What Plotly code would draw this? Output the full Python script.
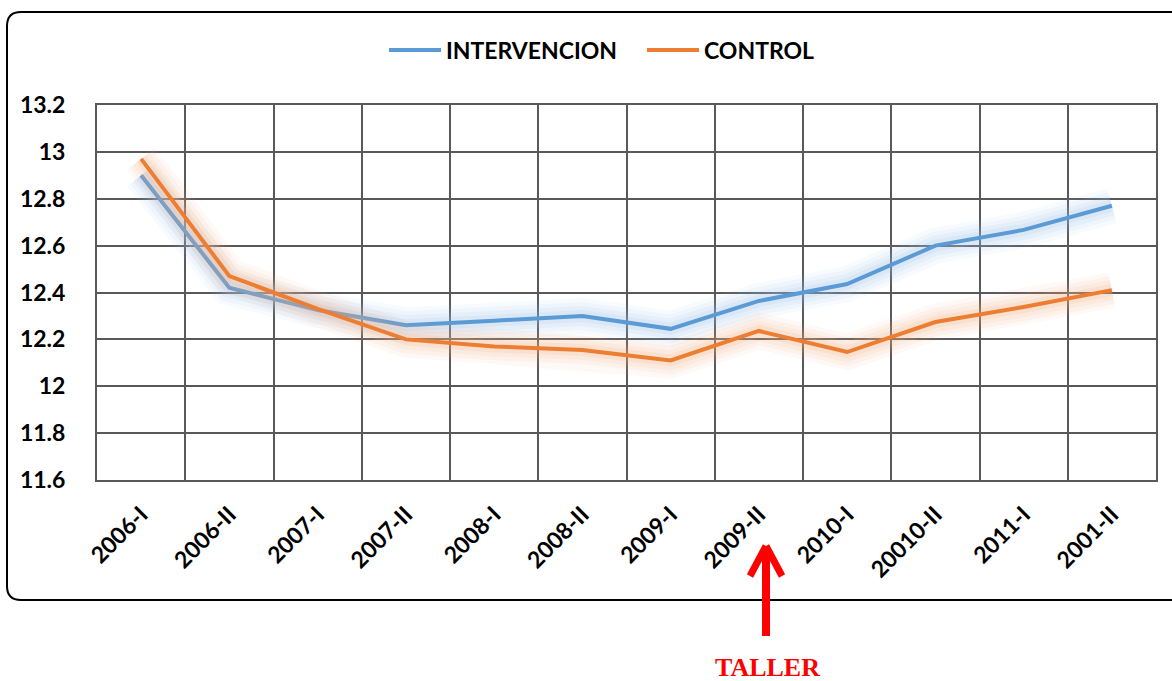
import plotly.graph_objects as go

categories = ["2006-I", "2006-II", "2007-I", "2007-II", "2008-I", "2008-II",
              "2009-I", "2009-II", "2010-I", "20010-II", "2011-I", "2001-II"]
intervencion = [12.90, 12.42, 12.325, 12.26, 12.28, 12.30,
                12.245, 12.364, 12.436, 12.60, 12.667, 12.77]
control = [12.97, 12.47, 12.33, 12.20, 12.17, 12.155,
           12.11, 12.236, 12.146, 12.274, 12.338, 12.41]
y_ticks = [11.6, 11.8, 12.0, 12.2, 12.4, 12.6, 12.8, 13.0, 13.2]
y_ticktext = ["11.6", "11.8", "12", "12.2", "12.4", "12.6", "12.8", "13", "13.2"]

W, H = 1172, 681
L, R, T, B = 97, 1156, 105, 480


def px(x):
    return (x - L) / (R - L)


def py(y):
    return 1 - (y - T) / (B - T)


BLUE = "#5B9BD5"
ORANGE = "#ED7D31"
BLUE_GLOW = "rgba(155,194,235,{a})"
ORANGE_GLOW = "rgba(244,177,131,{a})"

fig = go.Figure()


def add_series(name, vals, color, glow):
    for w, a in [(36, 0.07), (28, 0.09), (20, 0.12), (12, 0.16)]:
        fig.add_trace(go.Scatter(x=categories, y=vals, mode="lines",
                                 line=dict(color=glow.format(a=a), width=w),
                                 showlegend=False, hoverinfo="skip"))
    fig.add_trace(go.Scatter(x=categories, y=vals, mode="lines", name=name,
                             line=dict(color=color, width=4)))


add_series("INTERVENCION", intervencion, BLUE, BLUE_GLOW)
add_series("CONTROL", control, ORANGE, ORANGE_GLOW)

GRID = "#595959"
FONT = "Lato"

fig.update_layout(
    width=W, height=H,
    margin=dict(l=L, r=W - R, t=T, b=H - B),
    paper_bgcolor="white", plot_bgcolor="white",
    font=dict(family=FONT, color="black"),
    showlegend=True,
    legend=dict(orientation="h", x=px(384), xanchor="left", y=py(50), yanchor="middle",
                font=dict(family=FONT, size=23, color="black", weight="bold"),
                itemwidth=52, entrywidth=191, bgcolor="rgba(0,0,0,0)"),
    xaxis=dict(type="category", range=[-0.5, len(categories) - 0.5],
               tickson="boundaries", showgrid=True, gridcolor=GRID, gridwidth=2,
               showline=True, linecolor=GRID, linewidth=2, mirror=True,
               ticks="", tickangle=-45, ticklabelstandoff=10,
               tickfont=dict(family=FONT, size=23, color="black", weight="bold"),
               zeroline=False, fixedrange=True),
    yaxis=dict(range=[11.6, 13.2], tickvals=y_ticks, ticktext=y_ticktext,
               showgrid=True, gridcolor=GRID, gridwidth=2,
               showline=True, linecolor=GRID, linewidth=2, mirror=True,
               ticks="", ticklabelstandoff=25,
               tickfont=dict(family=FONT, size=23, color="black", weight="bold"),
               zeroline=False, fixedrange=True),
)

# rounded outer chart border
x0, x1 = px(7), px(1185)
y0, y1 = py(600), py(12)
rx = 14 / (R - L)
ry = 14 / (B - T)
path = (f"M {x0 + rx},{y1} L {x1},{y1} L {x1},{y0} L {x0 + rx},{y0} "
        f"Q {x0},{y0} {x0},{y0 + ry} L {x0},{y1 - ry} Q {x0},{y1} {x0 + rx},{y1} Z")
fig.add_shape(type="path", path=path, xref="paper", yref="paper",
              line=dict(color="black", width=2), fillcolor="rgba(0,0,0,0)")

# red arrow
ax = px(766)
fig.add_shape(type="line", xref="paper", yref="paper",
              x0=ax, x1=ax, y0=py(636), y1=py(549),
              line=dict(color="#FF0000", width=8))
for ex in (750, 782):
    fig.add_shape(type="line", xref="paper", yref="paper",
                  x0=px(ex), x1=ax, y0=py(576), y1=py(546),
                  line=dict(color="#FF0000", width=7))

fig.add_annotation(text="<b>TALLER</b>", xref="paper", yref="paper",
                   x=px(767), y=py(667), xanchor="center", yanchor="middle",
                   showarrow=False,
                   font=dict(family="Liberation Serif", size=26, color="#FF0000"))

fig.write_html("out.html", config={"displayModeBar": False},
               post_script="document.body.style.margin='0px';document.body.style.overflow='hidden';")
